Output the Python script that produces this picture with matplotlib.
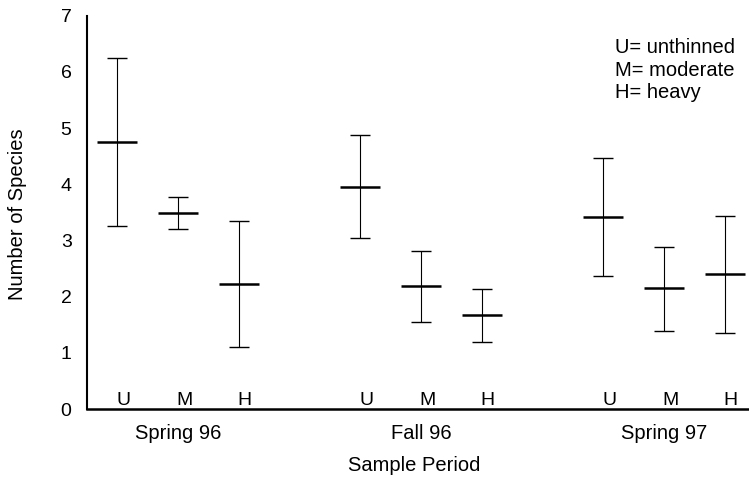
import matplotlib.pyplot as plt

plt.rcParams['font.family'] = ['Liberation Sans', 'DejaVu Sans']

# data
periods = ["Spring 96", "Fall 96", "Spring 97"]
treatments = ["U", "M", "H"]
means = [[4.75, 3.49, 2.22],
         [3.95, 2.19, 1.67],
         [3.42, 2.15, 2.40]]
upper = [[6.25, 3.77, 3.35],
         [4.88, 2.81, 2.14],
         [4.47, 2.88, 3.43]]
lower = [[3.26, 3.20, 1.10],
         [3.04, 1.55, 1.19],
         [2.37, 1.39, 1.35]]
legend_lines = ["U= unthinned", "M= moderate", "H= heavy"]

fig = plt.figure(figsize=(7.49, 4.86), dpi=100)
ax = fig.add_axes([0.116, 0.158, 0.884, 0.81])

for g in range(len(periods)):
    for t in range(len(treatments)):
        x = g * 4 + t
        m = means[g][t]
        ax.errorbar([x], [m], yerr=[[m - lower[g][t]], [upper[g][t] - m]],
                    fmt='none', ecolor='black', elinewidth=0.8,
                    capsize=7, capthick=1.0)
        ax.hlines(m, x - 0.33, x + 0.33, color='black', lw=1.8)
        ax.text(x + 0.1, 0.0, treatments[t], ha='center', va='bottom', fontsize=14)
    ax.text(g * 4 + 1, -0.26, periods[g], ha='center', va='top', fontsize=14.5)

ax.text(8.2, 6.03, "\n".join(legend_lines), ha='left', va='center',
        fontsize=14.5, linespacing=1.25)

ax.set_xlim(-0.5, 10.4)
ax.set_ylim(0, 7)
ax.set_xticks([])
ax.set_yticks(range(8))
ax.tick_params(axis='y', length=0, pad=11, labelsize=14)
ax.spines['top'].set_visible(False)
ax.spines['right'].set_visible(False)
ax.spines['left'].set_linewidth(1.5)
ax.spines['bottom'].set_linewidth(1.8)

fig.text(0.023, 0.56, "Number of Species", rotation=90, ha='center', va='center',
         fontsize=14.5)
fig.text(0.553, 0.043, "Sample Period", ha='center', va='center', fontsize=14.5)

fig.savefig("out.png", dpi=100)
